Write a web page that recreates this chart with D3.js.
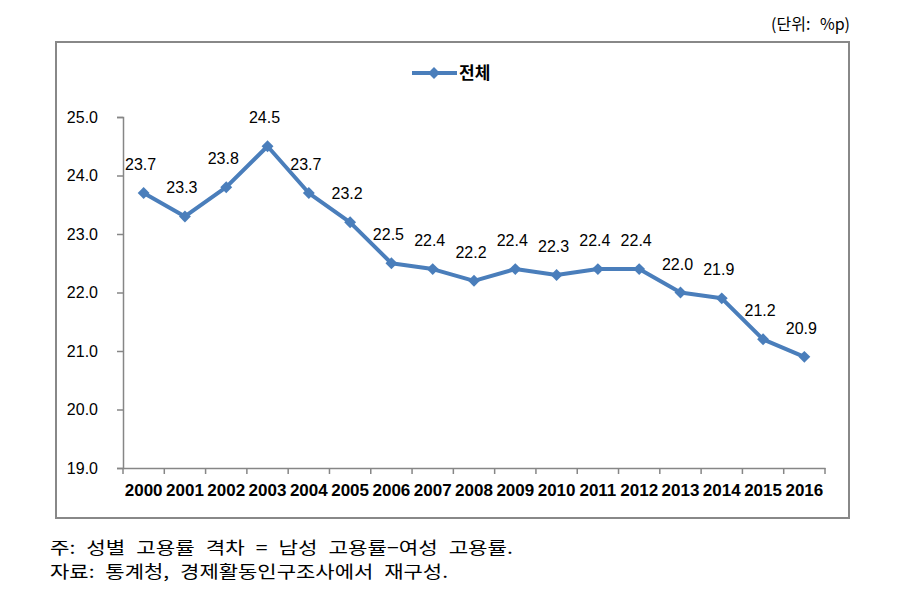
<!DOCTYPE html>
<html>
<head>
<meta charset="utf-8">
<script src="https://cdn.jsdelivr.net/npm/d3@7"></script>
<style>
  body { margin: 0; background: #fff; }
  svg text { font-family: "Liberation Sans", Arial, sans-serif; fill: #000; }
  .kr { font-family: "Noto Sans CJK KR", "Noto Sans", sans-serif; }
</style>
</head>
<body>
<div id="chart"></div>
<script>
// 연도 및 값
const years = ["2000","2001","2002","2003","2004","2005","2006","2007","2008",
               "2009","2010","2011","2012","2013","2014","2015","2016"];
const values = [23.7, 23.3, 23.8, 24.5, 23.7, 23.2, 22.5, 22.4, 22.2,
                22.4, 22.3, 22.4, 22.4, 22.0, 21.9, 21.2, 20.9];
const yTicks = [19, 20, 21, 22, 23, 24, 25];
const seriesName = "전체";
const unitText = "(단위: %p)";
const notes = ["주: 성별 고용률 격차 = 남성 고용률−여성 고용률.",
               "자료: 통계청, 경제활동인구조사에서 재구성."];

const W = 923, H = 595;
const plot = { left: 123, right: 825, top: 117, bottom: 468 };
const lineColor = "#4A7EBB";
const axisColor = "#868686";

const svg = d3.select("#chart").append("svg")
    .attr("width", W).attr("height", H);

// 바깥 테두리
svg.append("rect")
    .attr("x", 56).attr("y", 42)
    .attr("width", 793).attr("height", 476)
    .attr("fill", "none").attr("stroke", "#888").attr("stroke-width", 2);

const x = d3.scaleBand().domain(years).range([plot.left, plot.right]);
const y = d3.scaleLinear().domain([19, 25]).range([plot.bottom, plot.top]);

// Y축
const gy = svg.append("g")
    .attr("transform", `translate(${plot.left},0)`)
    .call(d3.axisLeft(y).tickValues(yTicks).tickFormat(d3.format(".1f")).tickSize(6).tickPadding(19));
gy.selectAll("path, line").attr("stroke", axisColor).attr("stroke-width", 1.5);
gy.selectAll("text").style("font-size", "16px").attr("fill", "#000");

// X축
const gx = svg.append("g")
    .attr("transform", `translate(0,${plot.bottom})`)
    .call(d3.axisBottom(x).tickSize(0).tickPadding(16));
gx.select("path").attr("stroke", axisColor).attr("stroke-width", 1.5);
gx.selectAll("text").style("font-size", "17px").style("font-weight", "bold").attr("fill", "#000");
// 구간 경계 눈금
gx.selectAll(".bnd")
    .data(years.concat(["end"]))
    .enter().append("line")
    .attr("x1", (d, i) => plot.left + i * x.step())
    .attr("x2", (d, i) => plot.left + i * x.step())
    .attr("y1", 0).attr("y2", 6)
    .attr("stroke", axisColor).attr("stroke-width", 1.5);

// 선
const line = d3.line()
    .x((d, i) => x(years[i]) + x.bandwidth() / 2)
    .y(d => y(d));

svg.append("path")
    .datum(values)
    .attr("d", line)
    .attr("fill", "none")
    .attr("stroke", lineColor)
    .attr("stroke-width", 4)
    .attr("stroke-linejoin", "round");

const diamond = d3.symbol().type(d3.symbolDiamond2).size(90);
svg.selectAll(".pt")
    .data(values)
    .enter().append("path")
    .attr("transform", (d, i) => `translate(${x(years[i]) + x.bandwidth() / 2},${y(d)})`)
    .attr("d", diamond)
    .attr("fill", lineColor);

// 값 라벨
svg.selectAll(".lbl")
    .data(values)
    .enter().append("text")
    .attr("x", (d, i) => x(years[i]) + x.bandwidth() / 2 - 3)
    .attr("y", d => y(d) - 23)
    .attr("text-anchor", "middle")
    .style("font-size", "16px")
    .text(d => d.toFixed(1));

// 범례
svg.append("line")
    .attr("x1", 412).attr("x2", 457).attr("y1", 73).attr("y2", 73)
    .attr("stroke", lineColor).attr("stroke-width", 4);
svg.append("path")
    .attr("transform", "translate(434,73)")
    .attr("d", diamond)
    .attr("fill", lineColor);
svg.append("text")
    .attr("class", "kr")
    .attr("x", 459).attr("y", 79)
    .style("font-size", "17px").style("font-weight", "bold")
    .text(seriesName);

// 단위
svg.append("text")
    .attr("class", "kr")
    .attr("x", 850).attr("y", 30)
    .attr("text-anchor", "end")
    .style("font-size", "16px")
    .style("word-spacing", "6px")
    .text(unitText);

// 주석
svg.selectAll(".note")
    .data(notes)
    .enter().append("text")
    .attr("class", "kr")
    .attr("x", 50)
    .attr("y", (d, i) => 554 + i * 24)
    .attr("textLength", (d, i) => i === 0 ? 463 : 398)
    .attr("lengthAdjust", "spacingAndGlyphs")
    .style("font-size", "17px")
    .style("word-spacing", "5px")
    .text(d => d);
</script>
</body>
</html>
